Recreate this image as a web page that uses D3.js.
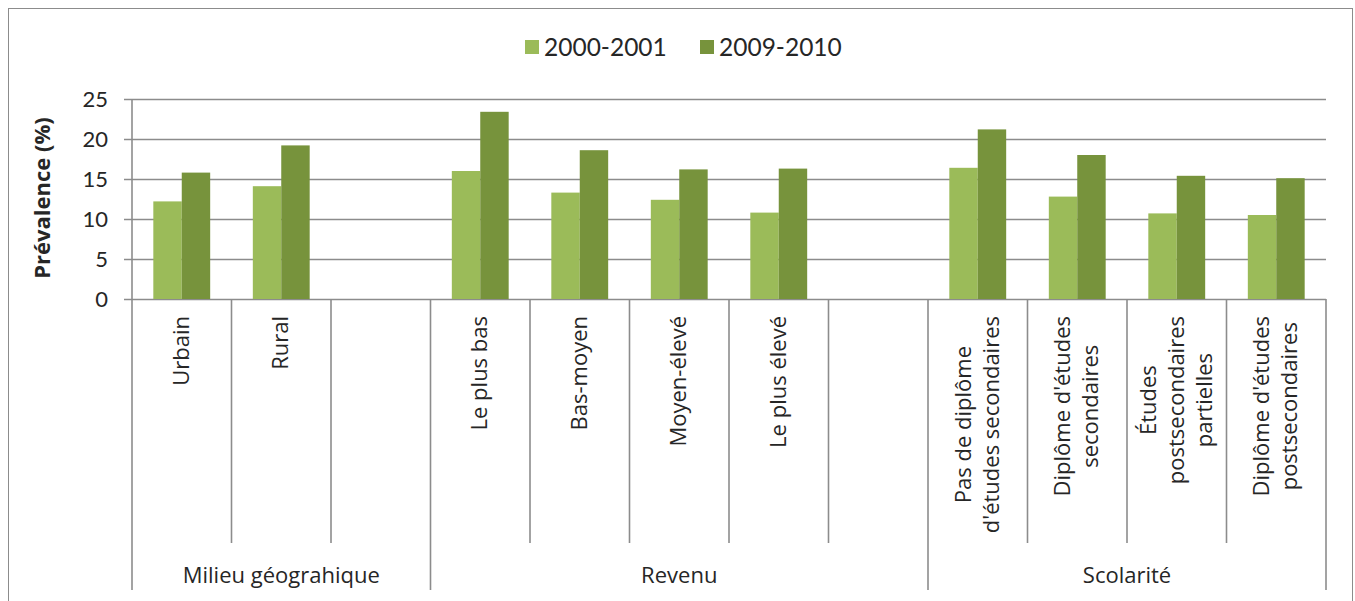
<!DOCTYPE html>
<html lang="fr">
	<head>
		<meta charset="utf-8">
		<title>Prévalence par milieu, revenu et scolarité</title>
		<script type="text/javascript" src="https://d3js.org/d3.v7.min.js"></script>
		<style type="text/css">
			body { margin: 0; background: #fff; }
			text { fill: #262626; }
			.num { font-family: Lato, "Open Sans", sans-serif; font-size: 21px; }
			.cat { font-family: "Open Sans", sans-serif; font-size: 22px; }
		</style>
	</head>
	<body>
		<script type="text/javascript">

			// data
			var seriesNames = ["2000-2001", "2009-2010"];
			var groups = ["Milieu géograhique", "Revenu", "Scolarité"];
			var categories = ["Urbain", "Rural", "", "Le plus bas", "Bas-moyen", "Moyen-élevé", "Le plus élevé", "",
				"Pas de diplôme|d'études secondaires", "Diplôme d'études|secondaires",
				"Études|postsecondaires|partielles", "Diplôme d'études|postsecondaires"];
			var groupOf = [0, 0, 0, 1, 1, 1, 1, 1, 2, 2, 2, 2];
			var values2000 = [12.2, 14.1, null, 16.0, 13.3, 12.4, 10.8, null, 16.4, 12.8, 10.7, 10.5];
			var values2009 = [15.8, 19.2, null, 23.4, 18.6, 16.2, 16.3, null, 21.2, 18.0, 15.4, 15.1];
			var yTicks = [0, 5, 10, 15, 20, 25];

			var colors = ["#9bbb59", "#77933c"];
			var gridColor = "#8c8c8c";

			var w = 1355, h = 601;
			var plotLeft = 132, plotRight = 1326, plotTop = 99, plotBottom = 299;

			var svg = d3.select("body").append("svg")
				.attr("width", w)
				.attr("height", h);

			// frame
			svg.append("rect")
				.attr("x", 8.5).attr("y", 8.5)
				.attr("width", 1344).attr("height", 600)
				.attr("fill", "none")
				.attr("stroke", "#8c8c8c")
				.attr("stroke-width", 1);

			var idx = d3.range(categories.length);
			var x = d3.scaleBand().domain(idx).range([plotLeft, plotRight]);
			var xs = d3.scaleBand().domain([0, 1]).range([0, x.bandwidth()])
				.paddingInner(0).paddingOuter(0.75);
			var y = d3.scaleLinear().domain([0, 25]).range([plotBottom, plotTop]);

			// gridlines + y axis
			var yAxis = d3.axisLeft(y).tickValues(yTicks).tickSize(0).tickPadding(16);
			var gy = svg.append("g")
				.attr("transform", "translate(" + (plotLeft - 8) + ",0)")
				.call(yAxis);
			gy.select(".domain").remove();
			gy.selectAll(".tick line")
				.attr("x1", 0).attr("x2", plotRight - plotLeft + 8)
				.attr("stroke", gridColor)
				.attr("stroke-width", 1.6);
			gy.selectAll(".tick text")
				.attr("class", "num")
				.attr("x", -16)
				.attr("dy", "0.36em")
				.style("font-size", "22px")
				.style("fill", "#262626");

			svg.append("line")
				.attr("x1", plotLeft).attr("x2", plotLeft)
				.attr("y1", plotTop).attr("y2", plotBottom)
				.attr("stroke", gridColor).attr("stroke-width", 1.6);

			// bars
			var seriesVals = [values2000, values2009];
			seriesVals.forEach(function(vals, s) {
				svg.append("g").selectAll("rect")
					.data(idx.filter(function(i) { return vals[i] != null; }))
					.enter()
					.append("rect")
					.attr("x", function(i) { return x(i) + xs(s); })
					.attr("width", xs.bandwidth())
					.attr("y", function(i) { return y(vals[i]); })
					.attr("height", function(i) { return y(0) - y(vals[i]); })
					.attr("fill", colors[s]);
			});

			// category separators below the axis
			var bounds = d3.range(categories.length + 1);
			svg.append("g").selectAll("line")
				.data(bounds)
				.enter()
				.append("line")
				.attr("x1", function(b) { return b < categories.length ? x(b) : plotRight; })
				.attr("x2", function(b) { return b < categories.length ? x(b) : plotRight; })
				.attr("y1", plotBottom)
				.attr("y2", function(b) {
					var isGroup = b === 0 || b === categories.length || groupOf[b] !== groupOf[b - 1];
					return isGroup ? 590 : 543;
				})
				.attr("stroke", gridColor)
				.attr("stroke-width", 1.6);

			// rotated category labels
			idx.forEach(function(i) {
				if (!categories[i]) return;
				var lines = categories[i].split("|");
				var cx = x(i) + x.bandwidth() / 2;
				var lh = 28;
				var g = svg.append("g");
				var texts = lines.map(function(l) {
					return g.append("text")
						.attr("class", "cat")
						.attr("text-anchor", "middle")
						.text(l);
				});
				var maxLen = d3.max(texts, function(t) { return t.node().getComputedTextLength(); });
				var cy = 316 + maxLen / 2;
				texts.forEach(function(t, k) {
					var lx = cx + (k - (lines.length - 1) / 2) * lh + 7;
					t.attr("transform", "translate(" + lx + "," + cy + ") rotate(-90)");
				});
			});

			// group labels
			groups.forEach(function(gname, gi) {
				var members = idx.filter(function(i) { return groupOf[i] === gi; });
				var x0 = x(members[0]);
				var x1 = x(members[members.length - 1]) + x.bandwidth();
				svg.append("text")
					.attr("class", "cat")
					.attr("x", (x0 + x1) / 2)
					.attr("y", 583)
					.attr("text-anchor", "middle")
					.text(gname);
			});

			// y axis title
			svg.append("text")
				.attr("transform", "translate(50,198) rotate(-90)")
				.attr("text-anchor", "middle")
				.style("font-family", "'Open Sans', sans-serif")
				.style("font-weight", "bold")
				.style("font-size", "22px")
				.text("Prévalence (%)");

			// legend
			var legendX = [525, 700];
			seriesNames.forEach(function(name, s) {
				svg.append("rect")
					.attr("x", legendX[s]).attr("y", 40)
					.attr("width", 14).attr("height", 14)
					.attr("fill", colors[s]);
				svg.append("text")
					.attr("class", "num")
					.attr("x", legendX[s] + 19)
					.attr("y", 56)
					.style("font-size", "24.5px")
					.text(name);
			});

		</script>
	</body>
</html>
